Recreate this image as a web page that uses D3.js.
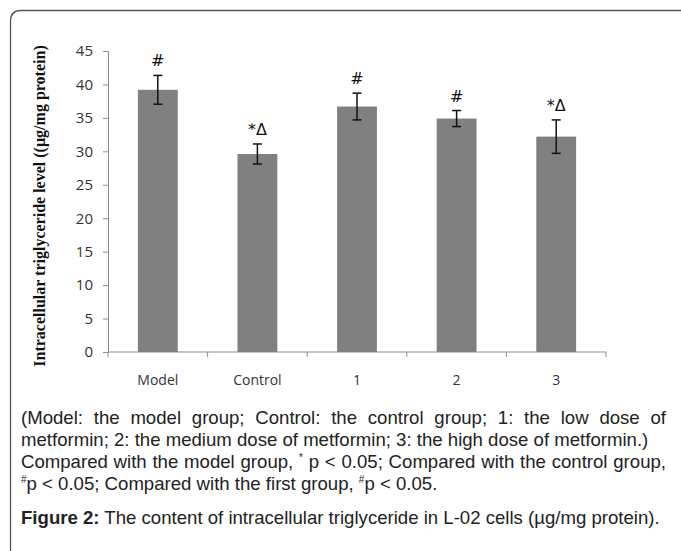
<!DOCTYPE html>
<head>
<meta charset="utf-8">
<title>Intracellular triglyceride</title>
<style>
body { margin: 0; background: #fff; }
</style>
</head>

<svg id="chart" width="681" height="551"></svg>

<script src="https://cdn.jsdelivr.net/npm/d3@7"></script>
<script>
// data
const groups = ["Model", "Control", "1", "2", "3"];
const means  = [39.2, 29.6, 36.7, 34.9, 32.2];
const errs   = [2.15, 1.5, 2.0, 1.2, 2.5];
const marks  = ["#", "*\u0394", "#", "#", "*\u0394"];
const yTicks = [0, 5, 10, 15, 20, 25, 30, 35, 40, 45];

// caption, one entry per printed line; parts: [text, superscript?]
const captionLines = [
	{ parts: [["(Model: the model group; Control: the control group; 1: the low dose of", false]], justify: true },
	{ parts: [["metformin; 2: the medium dose of metformin; 3: the high dose of metformin.)", false]], justify: false },
	{ parts: [["Compared with the model group, ", false], ["*", true], [" p < 0.05; Compared with the control group,", false]], justify: true },
	{ parts: [["#", true], ["p < 0.05; Compared with the first group, ", false], ["#", true], ["p < 0.05.", false]], justify: false }
];
const figTitle = ["Figure 2:", " The content of intracellular triglyceride in L-02 cells (µg/mg protein)."];

const svg = d3.select("#chart");

// frame round the figure, only top-left corner visible
svg.append("path")
	.attr("d", "M10.5,560 V21 Q10.5,10.5 21,10.5 H700")
	.attr("fill", "none")
	.attr("stroke", "#555")
	.attr("stroke-width", 1.3);

const x = d3.scaleBand()
	.domain(groups)
	.range([108, 606])
	.paddingInner(0.6)
	.paddingOuter(0.3);

const y = d3.scaleLinear()
	.domain([0, 45])
	.range([352, 51]);

// y axis
const yAxis = svg.append("g")
	.attr("transform", "translate(108,0)")
	.call(d3.axisLeft(y).tickValues(yTicks).tickSize(5).tickPadding(10));
yAxis.select(".domain").attr("stroke", "#8c8c8c");
yAxis.selectAll(".tick line").attr("stroke", "#8c8c8c");
yAxis.selectAll("text")
	.attr("font-family", "'Open Sans', sans-serif")
	.attr("font-size", 15)
	.attr("fill", "#333");

// x axis: ticks on group boundaries
const xAxis = svg.append("g")
	.attr("transform", "translate(0,352)");
xAxis.append("line")
	.attr("x1", 108).attr("x2", 606)
	.attr("stroke", "#8c8c8c");
xAxis.selectAll(".bt")
	.data(d3.range(groups.length + 1))
	.join("line")
	.attr("class", "bt")
	.attr("x1", i => 108 + i * x.step())
	.attr("x2", i => 108 + i * x.step())
	.attr("y1", 0).attr("y2", 5)
	.attr("stroke", "#8c8c8c");
xAxis.selectAll(".lbl")
	.data(groups)
	.join("text")
	.attr("class", "lbl")
	.attr("x", d => x(d) + x.bandwidth() / 2)
	.attr("y", 33)
	.attr("text-anchor", "middle")
	.attr("font-family", "'Open Sans', sans-serif")
	.attr("font-size", 14)
	.attr("fill", "#333")
	.text(d => d);

// bars
svg.selectAll(".bar")
	.data(groups)
	.join("rect")
	.attr("class", "bar")
	.attr("x", d => x(d))
	.attr("width", x.bandwidth())
	.attr("y", (d, i) => y(means[i]))
	.attr("height", (d, i) => y(0) - y(means[i]))
	.attr("fill", "#808080");

// error bars
const eb = svg.selectAll(".err")
	.data(groups)
	.join("g")
	.attr("class", "err")
	.attr("stroke", "#111")
	.attr("stroke-width", 1.5);
eb.append("line")
	.attr("x1", d => x(d) + x.bandwidth() / 2)
	.attr("x2", d => x(d) + x.bandwidth() / 2)
	.attr("y1", (d, i) => y(means[i] + errs[i]))
	.attr("y2", (d, i) => y(means[i] - errs[i]));
[1, -1].forEach(s => {
	eb.append("line")
		.attr("x1", d => x(d) + x.bandwidth() / 2 - 4.5)
		.attr("x2", d => x(d) + x.bandwidth() / 2 + 4.5)
		.attr("y1", (d, i) => y(means[i] + s * errs[i]))
		.attr("y2", (d, i) => y(means[i] + s * errs[i]));
});

// significance marks
svg.selectAll(".mark")
	.data(groups)
	.join("text")
	.attr("class", "mark")
	.attr("x", d => x(d) + x.bandwidth() / 2)
	.attr("y", (d, i) => y(means[i] + errs[i]) - 9)
	.attr("text-anchor", "middle")
	.attr("font-family", "'DejaVu Sans', sans-serif")
	.attr("font-size", 16)
	.attr("fill", "#111")
	.text((d, i) => marks[i]);

// y axis title
svg.append("text")
	.attr("transform", "translate(45,206) rotate(-90)")
	.attr("text-anchor", "middle")
	.attr("font-family", "'Liberation Serif', serif")
	.attr("font-weight", "bold")
	.attr("font-size", 16)
	.attr("fill", "#111")
	.text("Intracellular triglyceride level ((µg/mg protein)");

// caption under the chart
const capLeft = 21, capRight = 666, capFont = 18.6;
const cap = svg.append("g")
	.attr("font-family", "'Liberation Sans', Arial, sans-serif")
	.attr("font-size", capFont)
	.attr("fill", "#222");

captionLines.forEach((ln, k) => {
	const t = cap.append("text")
		.attr("x", capLeft)
		.attr("y", 424 + k * 22)
		.attr("xml:space", "preserve");
	let shift = 0;
	ln.parts.forEach(([s, sup]) => {
		const target = sup ? -7 : 0;
		const ts = t.append("tspan").text(s).attr("dy", target - shift);
		if (sup) ts.attr("font-size", 10);
		shift = target;
	});
	if (ln.justify) {
		const w = t.node().getComputedTextLength();
		const spaces = ln.parts.map(p => p[0]).join("").split(" ").length - 1;
		t.attr("word-spacing", (capRight - capLeft - w) / spaces);
	}
});

const ft = cap.append("text")
	.attr("x", capLeft)
	.attr("y", 524);
ft.append("tspan").attr("font-weight", "bold").text(figTitle[0]);
ft.append("tspan").text(figTitle[1]);
</script>
